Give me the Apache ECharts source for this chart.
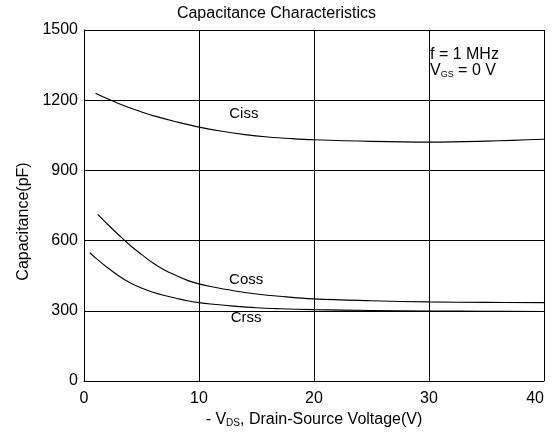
<!DOCTYPE html>
<html>
<head>
<meta charset="utf-8">
<script src="https://cdn.jsdelivr.net/npm/echarts@6/dist/echarts.min.js"></script>
<style>
  html, body { margin: 0; padding: 0; background: #fff; }
  #chart { width: 553px; height: 434px; }
</style>
</head>
<body>
<div id="chart"></div>
<script>
// Drain-source voltage (V) vs capacitance (pF) for the three device capacitances
const cissV = [1, 2, 3, 4, 5, 6, 8, 10, 12, 14, 16, 18, 20, 25, 30, 35, 40];
const cissC = [1230, 1207, 1186, 1167, 1150, 1134, 1108, 1085, 1067, 1053, 1043, 1036, 1031, 1024, 1021, 1025, 1033];

const cossV = [1.2, 2, 3, 4, 5, 6, 7, 8, 9, 10, 11, 13, 15, 17, 20, 25, 30, 35, 40];
const cossC = [712, 672, 625, 580, 541, 504, 474, 451, 430, 415, 404, 386, 372, 362, 351, 343, 338, 336, 335];

const crssV = [0.5, 1, 2, 3, 4, 5, 6, 7, 8, 9, 10, 11, 13, 15, 17, 20, 25, 30, 35, 40];
const crssC = [548, 526, 486, 450, 420, 397, 379, 365, 354, 343, 335, 329, 320, 313, 309, 305, 301, 299, 298, 297];

const xTicks = [0, 10, 20, 30, 40];
const yTicks = [0, 300, 600, 900, 1200, 1500];

// Curve names and where their captions sit, in axis units
const curveNames = ['Ciss', 'Coss', 'Crss'];
const captionAt = [[13.9, 1141], [14.1, 432], [14.1, 269]];

const FONT = '"Liberation Sans", Arial, sans-serif';

function pairs(xs, ys) { return xs.map((x, i) => [x, ys[i]]); }
const curves = [pairs(cissV, cissC), pairs(cossV, cossC), pairs(crssV, crssC)];

const chart = echarts.init(document.getElementById('chart'));

chart.setOption({
  backgroundColor: '#fff',
  animation: false,
  title: {
    text: 'Capacitance Characteristics',
    left: 'center',
    top: 1,
    textStyle: { fontFamily: FONT, fontSize: 16, fontWeight: 'normal', color: '#000' }
  },
  grid: { left: 84, right: 9, top: 30, bottom: 53 },
  xAxis: {
    type: 'value',
    min: xTicks[0],
    max: xTicks[xTicks.length - 1],
    interval: xTicks[1] - xTicks[0],
    name: '- V{s|DS}, Drain-Source Voltage(V)',
    nameLocation: 'middle',
    nameGap: 28,
    nameTextStyle: {
      fontFamily: FONT, fontSize: 16, color: '#000',
      rich: { s: { fontFamily: FONT, fontSize: 10, color: '#000', verticalAlign: 'bottom', padding: [6, 0, 0, 0] } }
    },
    axisLine: { lineStyle: { color: '#000', width: 1 } },
    axisTick: { show: false },
    axisLabel: { fontFamily: FONT, fontSize: 16, color: '#000', margin: 10, alignMaxLabel: 'right' },
    splitLine: { show: true, lineStyle: { color: '#000', width: 1 } }
  },
  yAxis: {
    type: 'value',
    min: yTicks[0],
    max: yTicks[yTicks.length - 1],
    interval: yTicks[1] - yTicks[0],
    name: 'Capacitance(pF)',
    nameLocation: 'middle',
    nameGap: 47,
    nameTextStyle: { fontFamily: FONT, fontSize: 16, color: '#000', padding: [0, 32, 0, 0] },
    axisLine: { show: true, lineStyle: { color: '#000', width: 1 } },
    axisTick: { show: false },
    axisLabel: { fontFamily: FONT, fontSize: 16, color: '#000', margin: 6, formatter: v => String(v) },
    splitLine: { show: true, lineStyle: { color: '#000', width: 1 } }
  },
  series: curves.map((data, i) => ({
    name: curveNames[i],
    type: 'line',
    data: data,
    smooth: 0.4,
    showSymbol: false,
    symbol: 'none',
    lineStyle: { color: '#000', width: 1.1 },
    markPoint: {
      symbol: 'rect',
      symbolSize: [1, 1],
      itemStyle: { color: 'rgba(0,0,0,0)' },
      data: [{ coord: captionAt[i] }],
      label: {
        show: true,
        formatter: curveNames[i],
        position: 'inside',
        fontFamily: FONT, fontSize: 15, color: '#000'
      }
    }
  })),
  graphic: [{
    type: 'text',
    left: 430,
    top: 47,
    style: {
      text: 'f = 1 MHz\nV{s|GS} = 0 V',
      rich: { s: { fontFamily: FONT, fontSize: 9, fill: '#000', verticalAlign: 'bottom', padding: [6, 0, 0, 0] } },
      fontFamily: FONT,
      fontSize: 16,
      lineHeight: 16,
      fill: '#000'
    }
  }]
});
</script>
</body>
</html>
